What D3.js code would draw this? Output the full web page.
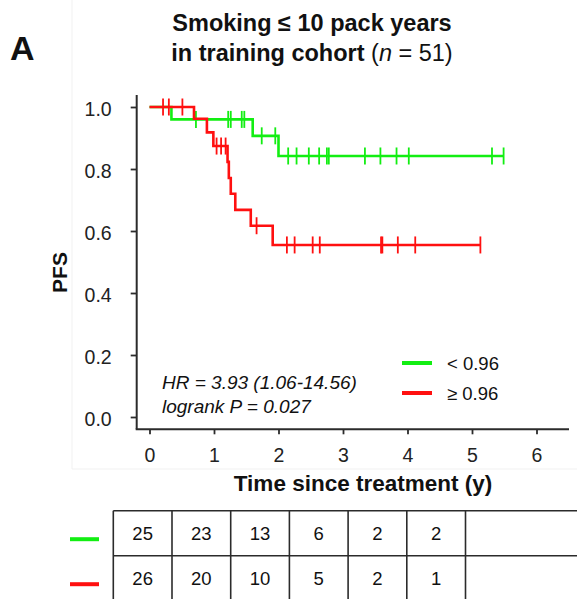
<!DOCTYPE html>
<html>
<head>
<meta charset="utf-8">
<script src="https://cdn.jsdelivr.net/npm/d3@7"></script>
<style>
  html, body { margin: 0; padding: 0; background: #fff; }
  svg { display: block; font-family: "Liberation Sans", Arial, sans-serif; }
</style>
</head>
<body>
<svg id="chart" width="577" height="599"></svg>
<script>
// Kaplan-Meier step curves: event times and survival after each step
const lowTimes  = [0, 0.34, 1.60, 2.00];
const lowSurv   = [1.0, 0.960, 0.907, 0.842];
const lowEnd    = 5.49;
const lowCensor = [0.72, 1.22, 1.26, 1.43, 1.47, 1.74, 1.95, 2.15, 2.28, 2.47, 2.63, 2.75, 2.78, 3.34, 3.58, 3.83, 4.02, 5.31, 5.49];

const highTimes  = [0, 0.69, 0.89, 0.99, 1.21, 1.23, 1.26, 1.33, 1.57, 1.91];
const highSurv   = [1.0, 0.962, 0.918, 0.874, 0.823, 0.771, 0.720, 0.668, 0.617, 0.555];
const highEnd    = 5.13;
const highCensor = [0.21, 0.30, 0.51, 1.04, 1.11, 1.18, 1.66, 2.13, 2.25, 2.53, 2.64, 3.59, 3.61, 3.85, 4.12, 5.13];

const xTicks = [0, 1, 2, 3, 4, 5, 6];
const yTicks = [0, 0.2, 0.4, 0.6, 0.8, 1.0];

const groupLabels = ["< 0.96", "\u2265 0.96"];
const atRiskLow  = [25, 23, 13, 6, 2, 2];
const atRiskHigh = [26, 20, 10, 5, 2, 1];

const GREEN = "#12ee12";
const RED = "#ff1010";
const AXIS = "#2b2b2b";

const svg = d3.select("#chart");

const x = d3.scaleLinear().domain([0, 6]).range([149.5, 536.5]);
const y = d3.scaleLinear().domain([0, 1]).range([417, 107]);

// faint panel edge around the plot image
svg.append("path")
  .attr("d", "M72,0 V469 H577")
  .attr("fill", "none").attr("stroke", "#f1f1f1").attr("stroke-width", 1);

// Panel letter
svg.append("text").attr("x", 10).attr("y", 60)
  .attr("font-size", 34).attr("font-weight", "bold").attr("fill", "#111").text("A");

// Title
const title = svg.append("text").attr("text-anchor", "middle").attr("font-size", 23.5).attr("fill", "#111");
title.append("tspan").attr("x", 312).attr("y", 31).attr("font-weight", "bold").text("Smoking \u2264 10 pack years");
const t2 = title.append("tspan").attr("x", 312).attr("y", 61);
t2.append("tspan").attr("font-weight", "bold").text("in training cohort ");
t2.append("tspan").text("(");
t2.append("tspan").attr("font-style", "italic").text("n");
t2.append("tspan").text(" = 51)");

// Axes
const axisY = 136.7, axisX = 429.3;
const gy = svg.append("g").attr("transform", `translate(${axisY},0)`)
  .call(d3.axisLeft(y).tickValues(yTicks).tickFormat(d3.format(".1f")).tickSize(6).tickPadding(19));
const gx = svg.append("g").attr("transform", `translate(0,${axisX})`)
  .call(d3.axisBottom(x).tickValues(xTicks).tickFormat(d3.format("d")).tickSize(5).tickPadding(15));
[gx, gy].forEach(g => {
  g.select(".domain").remove();
  g.selectAll(".tick line").attr("stroke", AXIS).attr("stroke-width", 1.8);
  g.selectAll(".tick text").attr("font-size", 19.5).attr("fill", "#222")
    .attr("font-family", "'Liberation Sans', Arial, sans-serif");
});
gy.selectAll(".tick text").attr("dy", "0.42em");
gx.selectAll(".tick text").attr("dy", "0.66em");
svg.append("line").attr("x1", axisY).attr("x2", axisY).attr("y1", 95).attr("y2", axisX)
  .attr("stroke", AXIS).attr("stroke-width", 2);
svg.append("line").attr("x1", axisY - 1).attr("x2", 569).attr("y1", axisX).attr("y2", axisX)
  .attr("stroke", AXIS).attr("stroke-width", 2);

// Axis titles
svg.append("text").attr("transform", "translate(67,272.5) rotate(-90)")
  .attr("text-anchor", "middle").attr("font-size", 21).attr("font-weight", "bold").attr("fill", "#111").text("PFS");
svg.append("text").attr("x", 363).attr("y", 491)
  .attr("text-anchor", "middle").attr("font-size", 22.5).attr("font-weight", "bold").attr("fill", "#111")
  .text("Time since treatment  (y)");

// Survival curves
function stepPoints(times, surv, end) {
  const pts = times.map((t, i) => [t, surv[i]]);
  pts.push([end, surv[surv.length - 1]]);
  return pts;
}
function survAt(times, surv, t) {
  let s = surv[0];
  for (let i = 0; i < times.length; i++) if (times[i] <= t) s = surv[i];
  return s;
}
const line = d3.line().x(d => x(d[0])).y(d => y(d[1])).curve(d3.curveStepAfter);

const groups = [
  { times: lowTimes, surv: lowSurv, end: lowEnd, censor: lowCensor, color: GREEN },
  { times: highTimes, surv: highSurv, end: highEnd, censor: highCensor, color: RED }
];
groups.forEach(gp => {
  svg.append("path").datum(stepPoints(gp.times, gp.surv, gp.end))
    .attr("d", line).attr("fill", "none").attr("stroke", gp.color).attr("stroke-width", 2.6);
  svg.append("g").selectAll("line").data(gp.censor).join("line")
    .attr("x1", d => x(d)).attr("x2", d => x(d))
    .attr("y1", d => y(survAt(gp.times, gp.surv, d)) - 8.5)
    .attr("y2", d => y(survAt(gp.times, gp.surv, d)) + 8.5)
    .attr("stroke", gp.color).attr("stroke-width", 1.8);
});

// Statistics
const stats = svg.append("g").attr("font-size", 19).attr("font-style", "italic").attr("fill", "#111");
stats.append("text").attr("x", 162).attr("y", 389).text("HR = 3.93 (1.06-14.56)");
stats.append("text").attr("x", 162).attr("y", 413).text("logrank P = 0.027");

// Legend
const legY = d3.scaleOrdinal().domain(groupLabels).range([363, 393]);
groupLabels.forEach((lab, i) => {
  const c = i === 0 ? GREEN : RED;
  svg.append("line").attr("x1", 402).attr("x2", 432).attr("y1", legY(lab)).attr("y2", legY(lab))
    .attr("stroke", c).attr("stroke-width", 4);
  svg.append("text").attr("x", 447).attr("y", legY(lab) + 6.5).attr("font-size", 18.5).attr("fill", "#111").text(lab);
});

// Number-at-risk table
const col = d3.scaleLinear().domain([0, 7]).range([113.3, 524.2]);
const rowTop = 510.7, rowH = 45;
const tbl = svg.append("g");
[rowTop, rowTop + rowH].forEach(yy => {
  tbl.append("line").attr("x1", col(0)).attr("x2", 577).attr("y1", yy).attr("y2", yy)
    .attr("stroke", AXIS).attr("stroke-width", 1.6);
});
d3.range(7).forEach(i => {
  tbl.append("line").attr("x1", col(i)).attr("x2", col(i)).attr("y1", rowTop).attr("y2", 599)
    .attr("stroke", AXIS).attr("stroke-width", 1.6);
});
[atRiskLow, atRiskHigh].forEach((row, r) => {
  const cy = rowTop + rowH * r + rowH / 2;
  tbl.append("line").attr("x1", 70).attr("x2", 99).attr("y1", cy + 6).attr("y2", cy + 6)
    .attr("stroke", r === 0 ? GREEN : RED).attr("stroke-width", 4);
  tbl.selectAll(null).data(row).join("text")
    .attr("x", (d, i) => (col(i) + col(i + 1)) / 2).attr("y", cy + 7)
    .attr("text-anchor", "middle").attr("font-size", 18.5).attr("fill", "#111").text(d => d);
});
</script>
</body>
</html>
